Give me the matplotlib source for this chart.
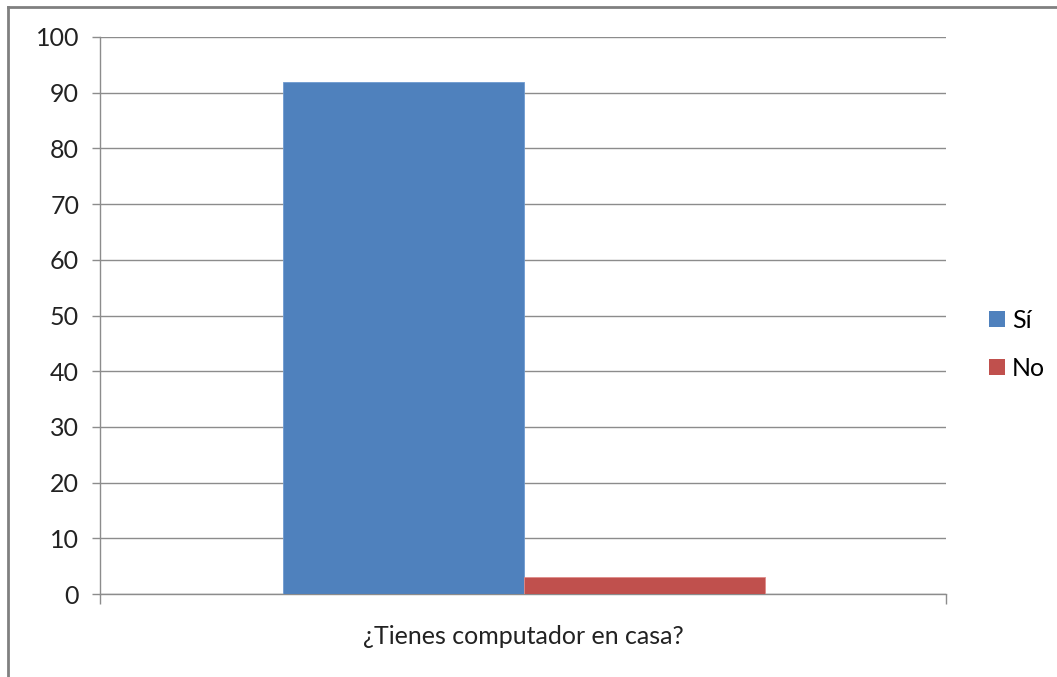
import matplotlib
matplotlib.use("Agg")
import matplotlib.pyplot as plt
from matplotlib.patches import Patch
from matplotlib.lines import Line2D

# datos
categorias = ["¿Tienes computador en casa?"]
series = ["Sí", "No"]
valores_si = [92]
valores_no = [3]
colores = ["#4F81BD", "#C0504D"]
yticks = [0, 10, 20, 30, 40, 50, 60, 70, 80, 90, 100]

plt.rcParams["font.family"] = ["Lato", "DejaVu Sans"]

fig = plt.figure(figsize=(10.57, 6.77), dpi=100)
W, H = 1057, 677
ax = fig.add_axes([100 / W, 1 - 594 / H, 846 / W, (594 - 37) / H])

ancho = 0.285
x = [0]
ax.bar([xi - 0.141 for xi in x], valores_si, width=ancho, color=colores[0],
       edgecolor="#6F9BD0", linewidth=0.6, label=series[0], zorder=3)
ax.bar([xi + 0.144 for xi in x], valores_no, width=ancho, color=colores[1],
       edgecolor="#E08C8A", linewidth=0.6, label=series[1], zorder=3)

ax.set_xlim(-0.5, 0.5)
ax.set_ylim(0, 100)
ax.set_yticks(yticks)
ax.set_yticklabels([str(v) for v in yticks], fontsize=18, color="#222222")
ax.yaxis.grid(True, color="#8C8C8C", linewidth=1.0, zorder=0)
ax.set_axisbelow(True)

for s in ("top", "right"):
    ax.spines[s].set_visible(False)
for s in ("left", "bottom"):
    ax.spines[s].set_color("#8C8C8C")
    ax.spines[s].set_linewidth(1.0)
ax.tick_params(axis="y", length=6, width=1.0, color="#8C8C8C", pad=9)

# eje x: marcas solo en los extremos
ax.set_xticks([-0.5, 0.5])
ax.set_xticklabels(["", ""])
ax.tick_params(axis="x", length=7, width=1.0, color="#8C8C8C")
ax.text(0, -7.6, categorias[0], ha="center", va="center", fontsize=18,
        color="#222222", transform=ax.transData, clip_on=False)

# leyenda
handles = [Patch(facecolor=c, edgecolor="none", label=s) for s, c in zip(series, colores)]
fig.legend(handles=handles, loc="center left", bbox_to_anchor=(989 / W, 1 - 344 / H),
           frameon=False, fontsize=18, handlelength=0.62, handleheight=0.62,
           handletextpad=0.3, labelspacing=1.0, borderaxespad=0, borderpad=0)

# marco exterior
fig.add_artist(Line2D([8 / W, 8 / W], [0, 1 - 7 / H], transform=fig.transFigure,
                      color="#808080", linewidth=2))
fig.add_artist(Line2D([8 / W, 1], [1 - 7 / H, 1 - 7 / H], transform=fig.transFigure,
                      color="#808080", linewidth=2))

fig.savefig("out.png", dpi=100, facecolor="white")
